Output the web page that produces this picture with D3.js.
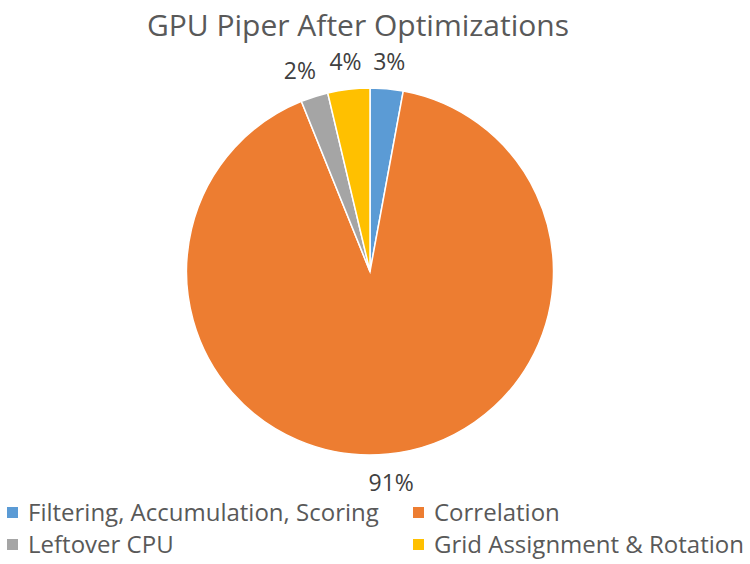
<!DOCTYPE html>
<html>
<head>
<meta charset="utf-8">
<script src="https://cdn.jsdelivr.net/npm/d3@7"></script>
<style>
  body { margin: 0; background: #fff; }
  svg { display: block; font-family: "Open Sans", "Lato", sans-serif; }
</style>
</head>
<body>
<svg id="chart"></svg>
<script>
// Slices, clockwise from 12 o'clock
const categories = ["Filtering, Accumulation, Scoring", "Correlation", "Leftover CPU", "Grid Assignment & Rotation"];
const shares = [2.9, 91.0, 2.4, 3.7];
const labels = ["3%", "91%", "2%", "4%"];
const colors = ["#5B9BD5", "#ED7D31", "#A5A5A5", "#FFC000"];

const width = 750, height = 564;
const cx = 370, cy = 271.5, radius = 183.5;

const svg = d3.select("#chart")
    .attr("width", width)
    .attr("height", height);

// Title
svg.append("text")
    .attr("x", 358)
    .attr("y", 36)
    .attr("text-anchor", "middle")
    .attr("fill", "#595959")
    .attr("font-size", 30)
    .text("GPU Piper After Optimizations");

const data = categories.map((c, i) => ({name: c, value: shares[i], label: labels[i], color: colors[i]}));

const pie = d3.pie().sort(null).value(d => d.value);
const arcs = pie(data);
const arc = d3.arc().innerRadius(0).outerRadius(radius);
const labelArc = d3.arc().innerRadius(radius + 28).outerRadius(radius + 28);

const g = svg.append("g").attr("transform", `translate(${cx},${cy})`);

g.selectAll("path")
    .data(arcs)
    .join("path")
    .attr("d", arc)
    .attr("fill", d => d.data.color)
    .attr("stroke", "#fff")
    .attr("stroke-width", 1.5);

g.selectAll("text.lbl")
    .data(arcs)
    .join("text")
    .attr("class", "lbl")
    .attr("transform", d => {
        const [x, y] = labelArc.centroid(d);
        // nudge the small left label away from its neighbour
        const dx = d.data.label === "2%" ? -6 : 0;
        return `translate(${x + dx},${y})`;
    })
    .attr("text-anchor", "middle")
    .attr("dominant-baseline", "central")
    .attr("fill", "#404040")
    .attr("font-size", 23)
    .text(d => d.data.label);

// Legend, two columns by two rows
const legendPos = [[7, 521], [413, 521], [7, 553], [413, 553]];
const legend = svg.append("g")
    .selectAll("g")
    .data(data)
    .join("g")
    .attr("transform", (d, i) => `translate(${legendPos[i][0]},${legendPos[i][1]})`);

legend.append("rect")
    .attr("x", 0)
    .attr("y", -14)
    .attr("width", 11)
    .attr("height", 11)
    .attr("fill", d => d.color);

legend.append("text")
    .attr("x", 21)
    .attr("y", 0)
    .attr("fill", "#595959")
    .attr("font-size", 24)
    .text(d => d.name);
</script>
</body>
</html>
